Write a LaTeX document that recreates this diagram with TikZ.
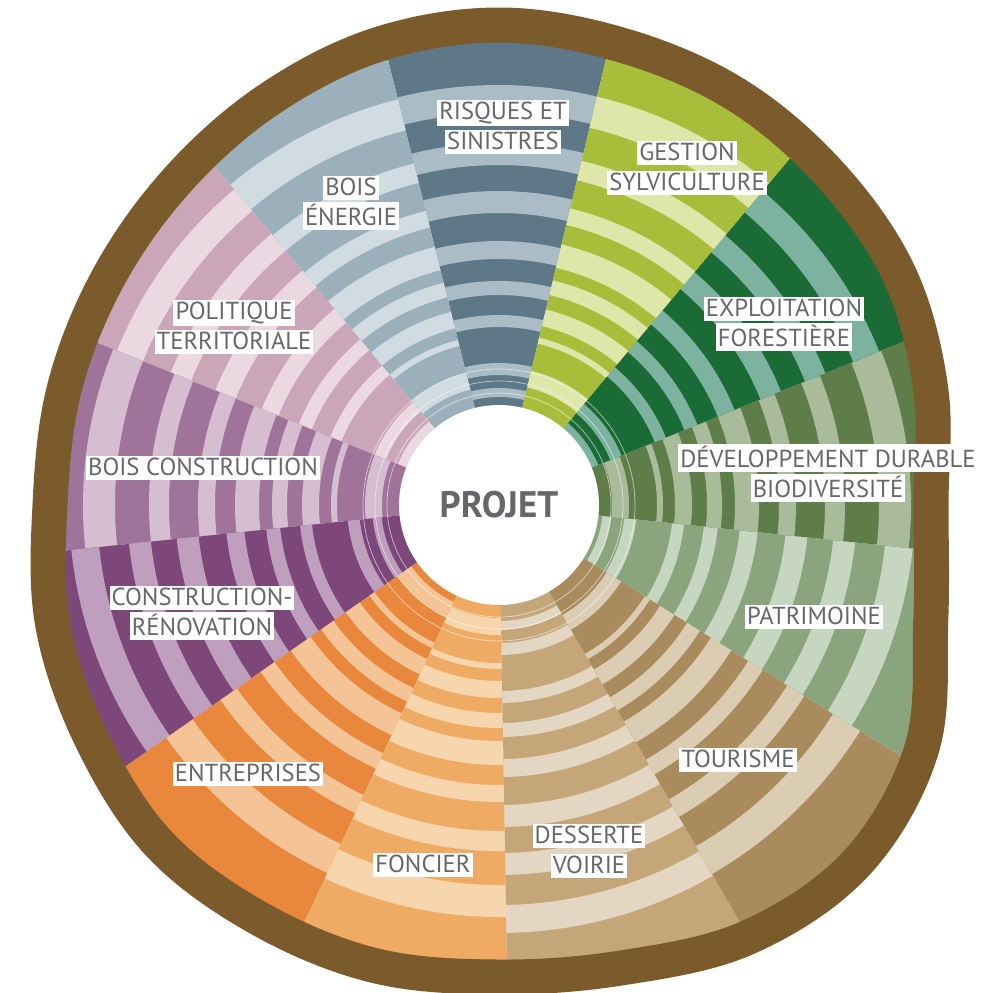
\documentclass[tikz,border=0pt]{standalone}
\usepackage{fontspec}
\setmainfont{PT Sans}
\usepackage{tikz}
\definecolor{bark}{HTML}{7B5B2C}
\definecolor{textgrey}{HTML}{66676B}
\definecolor{risqD}{HTML}{5E7888}\definecolor{risqL}{HTML}{AABCC6}
\definecolor{energD}{HTML}{9BB0BB}\definecolor{energL}{HTML}{D0DCE2}
\definecolor{poliD}{HTML}{CAA6B8}\definecolor{poliL}{HTML}{EAD9E1}
\definecolor{boisD}{HTML}{A0739B}\definecolor{boisL}{HTML}{D5BED0}
\definecolor{consD}{HTML}{7D477A}\definecolor{consL}{HTML}{BEA0BE}
\definecolor{entrD}{HTML}{E9883C}\definecolor{entrL}{HTML}{F4C496}
\definecolor{foncD}{HTML}{EFAA63}\definecolor{foncL}{HTML}{F7D5AD}
\definecolor{dessD}{HTML}{C4A679}\definecolor{dessL}{HTML}{E3D6C2}
\definecolor{tourD}{HTML}{AA8B5D}\definecolor{tourL}{HTML}{DACDB4}
\definecolor{patrD}{HTML}{8AA57E}\definecolor{patrL}{HTML}{C7D6C1}
\definecolor{devD}{HTML}{5E7D48}\definecolor{devL}{HTML}{AABB9B}
\definecolor{explD}{HTML}{1B6B37}\definecolor{explL}{HTML}{7EB2A0}
\definecolor{gestD}{HTML}{A8BE3A}\definecolor{gestL}{HTML}{DEE6AA}
% light rings, inner/outer radius
\def\ringsA{108/117,130/142,178/190,210/224,246/264,292/314,340/362,392/420}
\def\ringsB{113/130,158/164,176/193,208/223,236/260,280/297,326/346,380/412}
% middle line of the bark
\newcommand{\trunk}{plot[smooth cycle,tension=0.6] coordinates {(0:432) (15:447) (30:462) (45:468) (60:474) (75:476) (90:480) (105:476) (120:466) (135:457) (150:452) (165:450) (180:449) (195:462) (210:470) (225:480) (240:478) (255:477) (270:472) (285:479) (300:499) (315:506) (330:488) (345:447)}}
\newcommand{\trunksector}[6]{%
 \fill[#3](0,0)--(#1:620) arc[start angle=#1,end angle=#2,radius=620]--cycle;
 \foreach \ra/\rb in #6{
  \pgfmathsetmacro{\rx}{\ra+#5}
  \pgfmathsetmacro{\ry}{\rb+#5}
  \fill[#4](#1:\rx) arc[start angle=#1,end angle=#2,radius=\rx]--(#2:\ry) arc[start angle=#2,end angle=#1,radius=\ry]--cycle;
 }
}
\newcommand{\wbox}[1]{{\setlength{\fboxsep}{1.2pt}\colorbox{white}{\rule[-1.5pt]{0pt}{11.5pt}#1}}}
\tikzset{
 lbl/.style={text=textgrey,font=\fontsize{14}{17}\selectfont,align=center,inner sep=0pt},
 heart/.style={circle,fill=white,minimum size=4cm,inner sep=0pt,text=textgrey,font=\fontsize{21}{24}\selectfont\bfseries}
}
\begin{document}
\begin{tikzpicture}[x=0.02cm,y=0.02cm]
\useasboundingbox (-499,-487) rectangle (508,505);
\begin{scope}
\clip \trunk;
\trunksector{76.5}{104}{risqD}{risqL}{0}{\ringsA}
\trunksector{104}{130}{energD}{energL}{6}{\ringsB}
\trunksector{130}{158}{poliD}{poliL}{-8}{\ringsA}
\trunksector{158}{186}{boisD}{boisL}{4}{\ringsB}
\trunksector{186}{215}{consD}{consL}{10}{\ringsA}
\trunksector{215}{245}{entrD}{entrL}{-6}{\ringsB}
\trunksector{245}{271}{foncD}{foncL}{0}{\ringsB}
\trunksector{271}{300}{dessD}{dessL}{8}{\ringsA}
\trunksector{300}{328}{tourD}{tourL}{14}{\ringsB}
\trunksector{328}{354}{patrD}{patrL}{-4}{\ringsA}
\trunksector{354}{382}{devD}{devL}{0}{\ringsB}
\trunksector{22}{50}{explD}{explL}{-10}{\ringsA}
\trunksector{50}{76.5}{gestD}{gestL}{8}{\ringsB}
\foreach \rr in {112,124,136}{
\draw[white,opacity=0.6,line width=0.4pt](0,0) circle (\rr);
}
\end{scope}
\draw[bark,line width=0.7cm] \trunk;
\node[heart] (projet) at (0,0) {PROJET};
%labels
\node[lbl] (risques) at (4,378) {\wbox{RISQUES ET}\\\wbox{SINISTRES}};
\node[lbl] (energie) at (-148,302) {\wbox{BOIS}\\\wbox{ÉNERGIE}};
\node[lbl] (gestion) at (188,337) {\wbox{GESTION}\\\wbox{SYLVICULTURE}};
\node[lbl] (exploit) at (285,181) {\wbox{EXPLOITATION}\\\wbox{FORESTIÈRE}};
\node[lbl] (durable) at (329,32) {\wbox{DÉVELOPPEMENT DURABLE}\\\wbox{BIODIVERSITÉ}};
\node[lbl] (patrimoine) at (315,-112) {\wbox{PATRIMOINE}};
\node[lbl] (tourisme) at (239,-255) {\wbox{TOURISME}};
\node[lbl] (desserte) at (90,-346) {\wbox{DESSERTE}\\\wbox{VOIRIE}};
\node[lbl] (foncier) at (-76,-360) {\wbox{FONCIER}};
\node[lbl] (entreprises) at (-251,-269) {\wbox{ENTREPRISES}};
\node[lbl] (renovation) at (-297,-108) {\wbox{CONSTRUCTION-}\\\wbox{RÉNOVATION}};
\node[lbl] (boiscons) at (-296,37) {\wbox{BOIS CONSTRUCTION}};
\node[lbl] (politique) at (-265,178) {\wbox{POLITIQUE}\\\wbox{TERRITORIALE}};
\end{tikzpicture}
\end{document}
